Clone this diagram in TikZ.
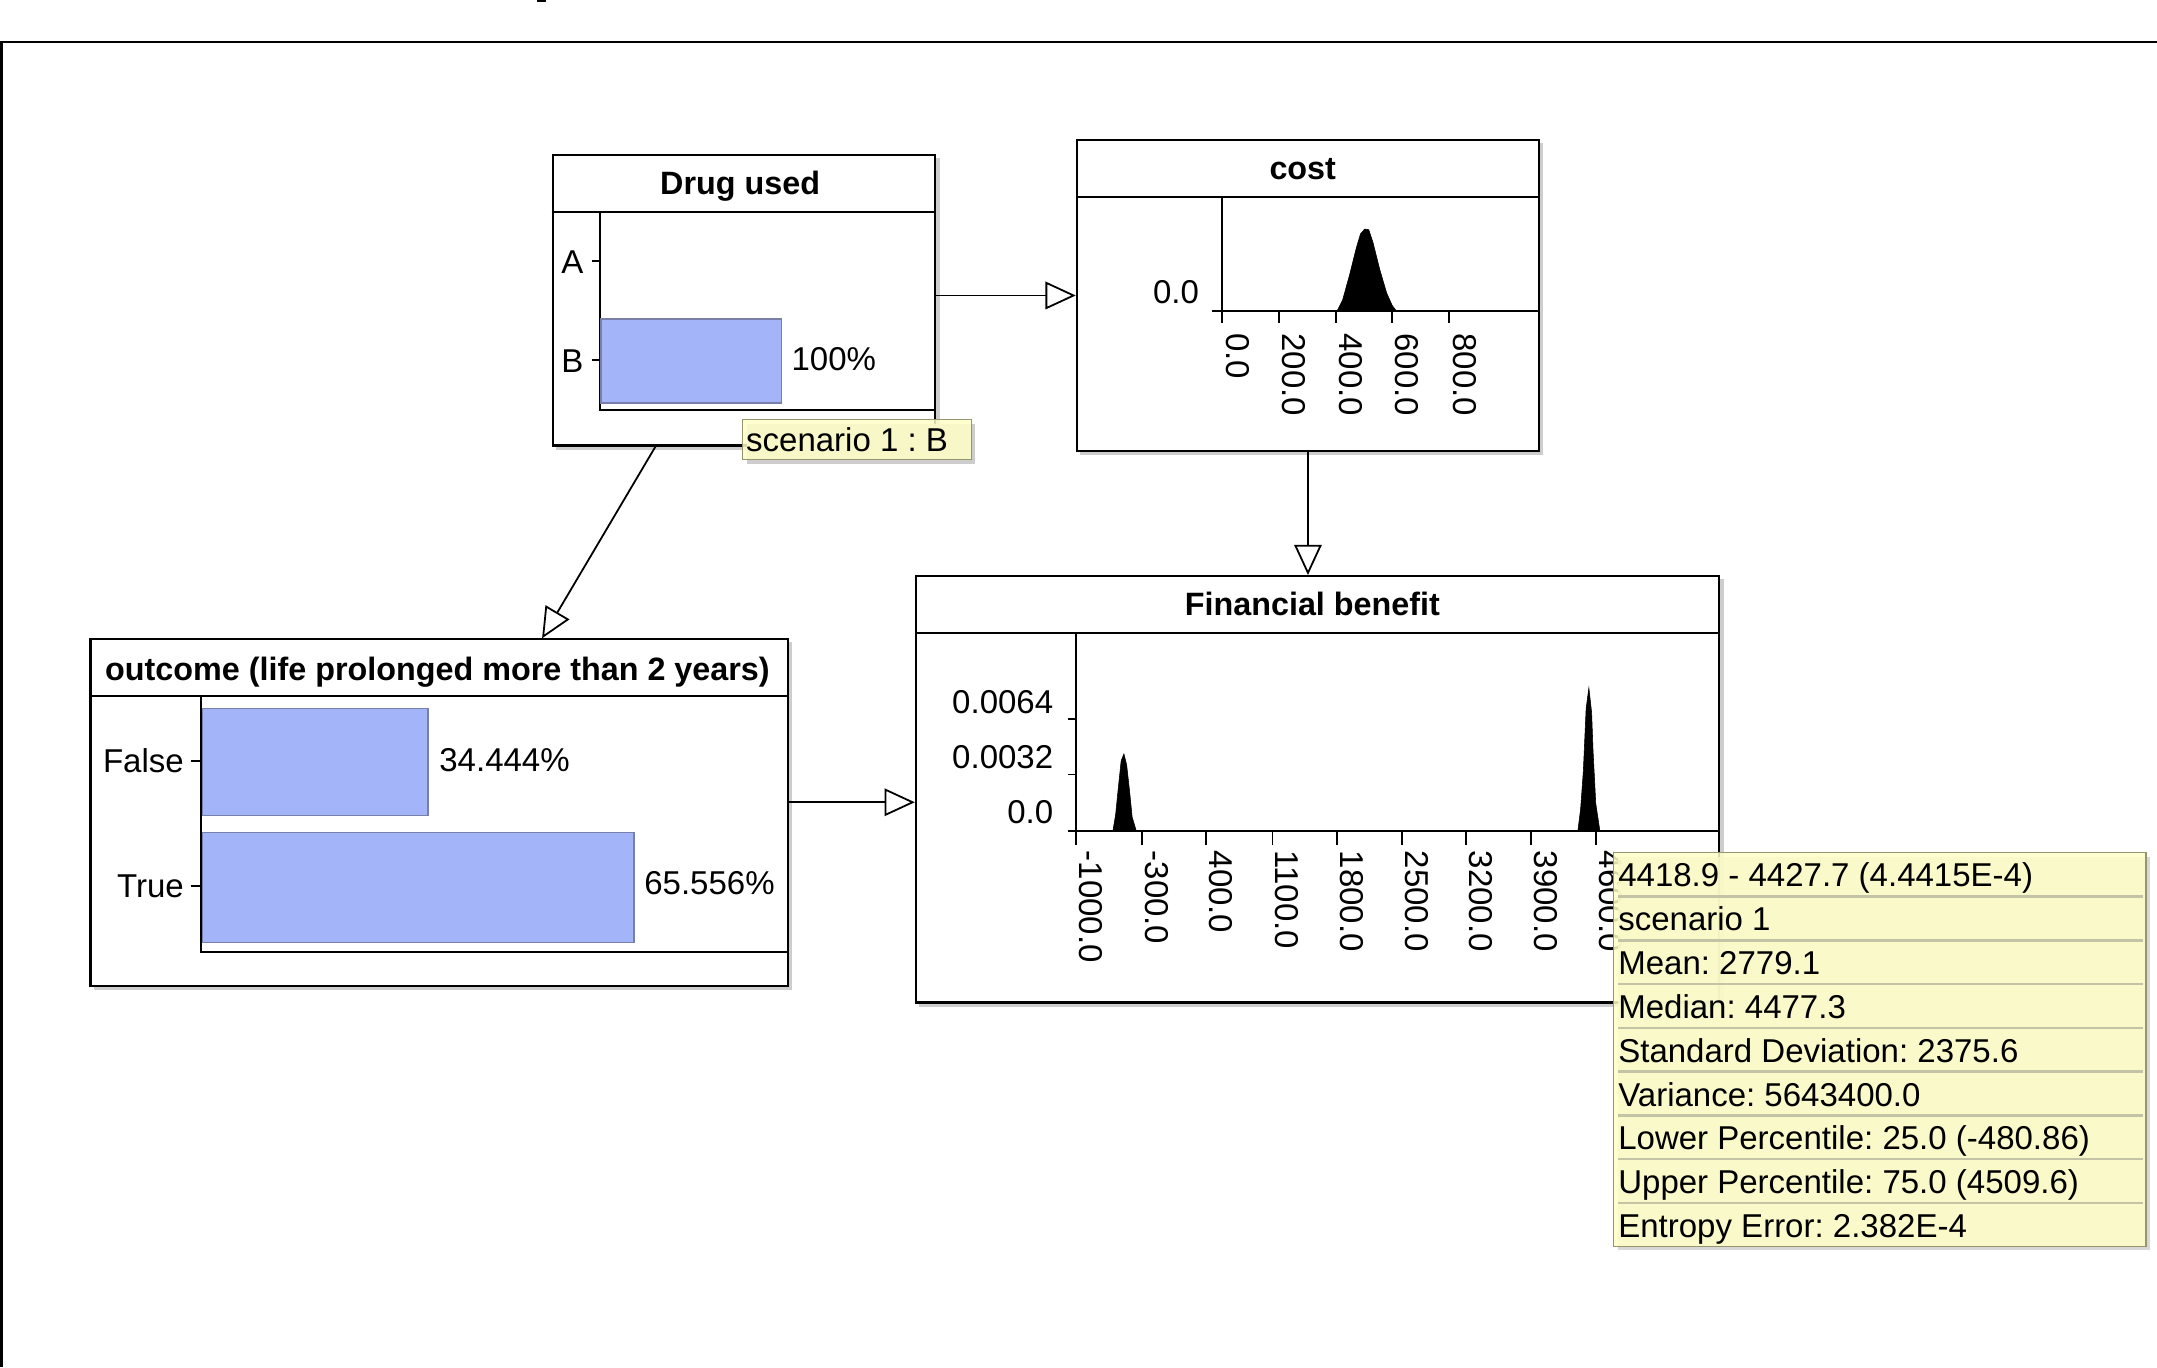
\documentclass[tikz,border=0pt]{standalone}
\usepackage{fontspec}
\setmainfont{Liberation Sans}
\usetikzlibrary{arrows.meta,calc}
\definecolor{barblue}{RGB}{164,180,248}
\definecolor{bargrey}{RGB}{120,128,170}
\definecolor{tipyellow}{RGB}{255,255,200}
\definecolor{tipborder}{RGB}{150,150,110}
\definecolor{shadowgrey}{RGB}{205,205,205}
\definecolor{sepgrey}{RGB}{195,195,165}
\newcommand\ttlfont{\fontsize{11.75pt}{12pt}\selectfont\bfseries}
\newcommand\lblfont{\fontsize{12pt}{12pt}\selectfont}
\frenchspacing
\begin{document}
\begin{tikzpicture}[x=0.5pt,y=-0.5pt,
  bnbox/.style={draw=black,line width=0.8pt,fill=white,inner sep=0pt,anchor=north west},
  ttl/.style={font=\ttlfont,inner sep=0pt,text height=8.4pt,text depth=0pt},
  lbl/.style={font=\lblfont,inner sep=0pt,text height=8.6pt,text depth=0pt},
  vlbl/.style={lbl,rotate=-90,anchor=west},
  bar/.style={fill=barblue,draw=bargrey,line width=0.5pt},
  axisline/.style={line width=0.7pt},
  peak/.style={fill=black,draw=black,line width=0.2pt},
  link/.style={line width=0.65pt,-{Triangle[open,length=11pt,width=10pt,line width=0.65pt]}},
  tip/.style={fill=tipyellow,fill opacity=0.85,draw=tipborder,line width=0.4pt},
  sep/.style={draw=sepgrey,line width=0.9pt},
]
\useasboundingbox (0,0) rectangle (1568,994);
\fill[white] (0,0) rectangle (1568,994);
% outer frame
\draw[line width=1pt] (1,994) -- (1,30.5) -- (1568,30.5);
\fill[black] (390,0) rectangle (397,1.5);

% shadows
\fill[shadowgrey] (404,115) rectangle (683,327);
\fill[shadowgrey] (785,104) rectangle (1122,331);
\fill[shadowgrey] (68,467) rectangle (576,720);
\fill[shadowgrey] (668,421) rectangle (1253,732);

% boxes
\node[bnbox,minimum width=139pt,minimum height=105.5pt] (drug) at (401,112) {};
\node[bnbox,minimum width=168pt,minimum height=113pt] (cost) at (782,101) {};
\node[bnbox,minimum width=253.5pt,minimum height=126pt] (out) at (65,464) {};
\node[bnbox,minimum width=292pt,minimum height=155pt] (fin) at (665,418) {};

% connectors
\draw[link] (cost.west -| drug.east) -- (cost.west);
\draw[link] (cost.south) -- (cost.south |- fin.north);
\coordinate (dOut) at ($(drug.south west)!0.27!(drug.south east)$);
\coordinate (oIn) at ($(out.north west)!0.647!(out.north east)$);
\draw[link] (dOut) -- (oIn);
\coordinate (oR) at ($(out.north east)!0.47!(out.south east)$);
\draw[link] (oR) -- (oR -| fin.west);

% ---- Drug used
\draw[line width=0.8pt] (401,154) -- (679,154);
\node[ttl] (drugT) at (538,133) {Drug used};
\draw[axisline] (436,154) -- (436,298) -- (679,298);
\draw[axisline] (430,190) -- (436,190);
\draw[axisline] (430,262) -- (436,262);
\node[lbl] (drugA) at (416,190) {A};
\node[lbl] (drugB) at (416,262) {B};
\draw[bar] (437,232) rectangle (568,293);
\node[lbl,anchor=west] (drugBp) at (575,261) {100\%};

% ---- cost
\draw[line width=0.8pt] (782,143) -- (1118,143);
\node[ttl] (costT) at (947,122) {cost};
\draw[peak] (972,226) -- (976,218) -- (981,200) -- (986,180) -- (989,170) -- (992,166.5) -- (995,167) -- (998,176) -- (1003,196) -- (1008,213) -- (1012,222) -- (1015,226) -- cycle;
\draw[axisline] (888,143) -- (888,226);
\draw[axisline] (881,226) -- (1118,226);
\foreach \tx in {888,930,971,1012,1053} \draw[axisline] (\tx,226) -- (\tx,235);
\node[lbl,anchor=east] (costY) at (872,212) {0.0};
\node[vlbl] (cx0) at (900,242) {0.0};
\node[vlbl] (cx1) at (941,242) {200.0};
\node[vlbl] (cx2) at (982,242) {400.0};
\node[vlbl] (cx3) at (1023,242) {600.0};
\node[vlbl] (cx4) at (1065,242) {800.0};

% ---- outcome
\draw[line width=0.8pt] (65,506) -- (572,506);
\node[ttl] (outT) at (318,486) {outcome (life prolonged more than 2 years)};
\draw[axisline] (146,506) -- (146,692) -- (572,692);
\draw[axisline] (139,553) -- (146,553);
\draw[axisline] (139,644) -- (146,644);
\node[lbl,anchor=east] (outF) at (134,553) {False};
\node[lbl,anchor=east] (outTr) at (134,644) {True};
\draw[bar] (147,515) rectangle (311,593);
\draw[bar] (147,605) rectangle (461,685);
\node[lbl,anchor=west] (outFp) at (319,552) {34.444\%};
\node[lbl,anchor=west] (outTp) at (468,642) {65.556\%};

% ---- Financial benefit
\draw[line width=0.8pt] (665,460) -- (1249,460);
\node[ttl] (finT) at (954,439) {Financial benefit};
\draw[peak] (809,604) -- (811,592) -- (813,572) -- (815,553) -- (817,548) -- (819,556) -- (821,574) -- (823,594) -- (826,604) -- cycle;
\draw[peak] (1147,604) -- (1149,588) -- (1151,560) -- (1153,515) -- (1155,500) -- (1157,518) -- (1158,545) -- (1160,584) -- (1163,604) -- cycle;
\draw[axisline] (782,460) -- (782,604);
\draw[axisline] (776,604) -- (1249,604);
\draw[axisline] (776,523) -- (782,523);
\draw[axisline] (776,563) -- (782,563);
\foreach \tx in {782,830,877,925,972,1019,1066,1113,1160} \draw[axisline] (\tx,604) -- (\tx,614);
\node[lbl,anchor=east] (fy2) at (766,510) {0.0064};
\node[lbl,anchor=east] (fy1) at (766,550) {0.0032};
\node[lbl,anchor=east] (fy0) at (766,590) {0.0};
\node[vlbl] (fx0) at (793,618) {-1000.0};
\node[vlbl] (fx1) at (841,618) {-300.0};
\node[vlbl] (fx2) at (888,618) {400.0};
\node[vlbl] (fx3) at (936,618) {1100.0};
\node[vlbl] (fx4) at (983,618) {1800.0};
\node[vlbl] (fx5) at (1030,618) {2500.0};
\node[vlbl] (fx6) at (1077,618) {3200.0};
\node[vlbl] (fx7) at (1124,618) {3900.0};
\node[vlbl] (fx8) at (1171,618) {4600.0};

% ---- tooltip small
\fill[shadowgrey] (543,308) rectangle (709,337);
\path[tip] (540,305) rectangle (706,334);
\node[lbl,anchor=west] (tipS) at (542,319.5) {scenario 1 : B};

% ---- tooltip big
\fill[shadowgrey,fill opacity=0.8] (1176,623) rectangle (1563,909);
\path[tip] (1173,620) rectangle (1560,906);
\foreach \k in {1,...,8} \draw[sep] (1176,{620+\k*31.8}) -- (1558,{620+\k*31.8});
\node[lbl,anchor=west] (r1) at (1176,636) {4418.9 - 4427.7 (4.4415E-4)};
\node[lbl,anchor=west] (r2) at (1176,668) {scenario 1};
\node[lbl,anchor=west] (r3) at (1176,700) {Mean: 2779.1};
\node[lbl,anchor=west] (r4) at (1176,732) {Median: 4477.3};
\node[lbl,anchor=west] (r5) at (1176,764) {Standard Deviation: 2375.6};
\node[lbl,anchor=west] (r6) at (1176,796) {Variance: 5643400.0};
\node[lbl,anchor=west] (r7) at (1176,827) {Lower Percentile: 25.0 (-480.86)};
\node[lbl,anchor=west] (r8) at (1176,859) {Upper Percentile: 75.0 (4509.6)};
\node[lbl,anchor=west] (r9) at (1176,891) {Entropy Error: 2.382E-4};
\end{tikzpicture}
\end{document}
